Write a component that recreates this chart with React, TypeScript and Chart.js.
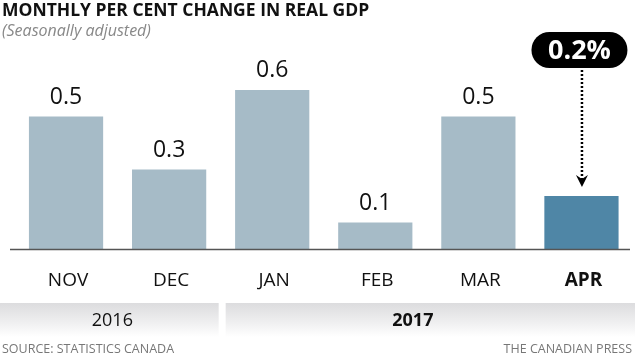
import React, { useEffect, useRef } from "react";
import { Chart, registerables } from "chart.js";

Chart.register(...registerables);

const months = ["NOV", "DEC", "JAN", "FEB", "MAR", "APR"];
const values = [0.5, 0.3, 0.6, 0.1, 0.5, 0.2];
const valueLabels = ["0.5", "0.3", "0.6", "0.1", "0.5", "0.2%"];
const years = ["2016", "2017"];
const yearSpans = [[0, 1], [2, 5]];
const title = "MONTHLY PER CENT CHANGE IN REAL GDP";
const subtitle = "(Seasonally adjusted)";
const source = "SOURCE: STATISTICS CANADA";
const credit = "THE CANADIAN PRESS";

const LIGHT = "rgb(166,187,199)";
const DARK = "rgb(79,134,166)";
const FONT = "'Open Sans', 'Noto Sans', sans-serif";

const overlay = {
  id: "overlay",
  afterDatasetsDraw(chart: any) {
    const ctx = chart.ctx as CanvasRenderingContext2D;
    const meta = chart.getDatasetMeta(0);
    const area = chart.chartArea;
    const W = chart.width;
    ctx.save();

    // baseline
    ctx.strokeStyle = "#555";
    ctx.lineWidth = 1.5;
    ctx.beginPath();
    ctx.moveTo(10, area.bottom + 0.5);
    ctx.lineTo(630, area.bottom + 0.5);
    ctx.stroke();

    // title
    ctx.textAlign = "left";
    ctx.textBaseline = "alphabetic";
    ctx.fillStyle = "#111";
    ctx.font = `bold 17.5px ${FONT}`;
    ctx.fillText(title, 2, 16);
    ctx.fillStyle = "#888";
    ctx.font = `italic 16px ${FONT}`;
    ctx.fillText(subtitle, 2, 36);

    // value labels & month labels
    meta.data.forEach((bar: any, i: number) => {
      ctx.textAlign = "center";
      if (i < months.length - 1) {
        ctx.fillStyle = "#111";
        ctx.font = `23px ${FONT}`;
        ctx.textBaseline = "alphabetic";
        ctx.fillText(valueLabels[i], bar.x, bar.y - 13);
      }
      ctx.fillStyle = "#111";
      ctx.font = (i === months.length - 1 ? "bold " : "") + `19px ${FONT}`;
      ctx.textBaseline = "middle";
      ctx.fillText(months[i], bar.x + 2, area.bottom + 32);
    });

    // year bands
    const bandTop = 303;
    const bandBottom = 337;
    yearSpans.forEach((span, k) => {
      const first = meta.data[span[0]];
      const last = meta.data[span[1]];
      const half = (meta.data[1].x - meta.data[0].x) / 2;
      const x0 = k === 0 ? 0 : first.x - half + 5;
      const x1 = k === yearSpans.length - 1 ? W : last.x + half - 2;
      const g = ctx.createLinearGradient(0, bandTop, 0, bandBottom);
      g.addColorStop(0, "rgb(220,220,222)");
      g.addColorStop(0.6, "rgb(240,240,241)");
      g.addColorStop(1, "rgba(255,255,255,1)");
      ctx.fillStyle = g;
      ctx.fillRect(x0, bandTop, x1 - x0, bandBottom - bandTop);
      ctx.fillStyle = "#111";
      ctx.font = (k === 1 ? "bold " : "") + `18px ${FONT}`;
      ctx.textAlign = "center";
      ctx.textBaseline = "middle";
      const cx = k === 0 ? (x0 + x1) / 2 + 3 : (first.x + last.x) / 2 - 14;
      ctx.fillText(years[k], cx, 321);
    });

    // footer
    ctx.fillStyle = "#777";
    ctx.font = `12.5px ${FONT}`;
    ctx.textBaseline = "alphabetic";
    ctx.textAlign = "left";
    ctx.fillText(source, 2, 353);
    ctx.textAlign = "right";
    ctx.fillText(credit, 632, 353);

    // callout for last bar
    const lb = meta.data[meta.data.length - 1];
    const px = lb.x - 2;
    const pw = 96;
    const ph = 36;
    const py = 32;
    const r = ph / 2;
    ctx.fillStyle = "#000";
    ctx.beginPath();
    ctx.moveTo(px - pw / 2 + r, py);
    ctx.lineTo(px + pw / 2 - r, py);
    ctx.arc(px + pw / 2 - r, py + r, r, -Math.PI / 2, Math.PI / 2);
    ctx.lineTo(px - pw / 2 + r, py + ph);
    ctx.arc(px - pw / 2 + r, py + r, r, Math.PI / 2, (3 * Math.PI) / 2);
    ctx.closePath();
    ctx.fill();
    ctx.fillStyle = "#fff";
    ctx.font = `bold 27px ${FONT}`;
    ctx.textAlign = "center";
    ctx.textBaseline = "middle";
    ctx.fillText(valueLabels[valueLabels.length - 1], px, py + ph / 2 + 1);

    // dotted arrow
    const ax = lb.x + 0.5;
    const tip = lb.y - 9;
    ctx.strokeStyle = "#000";
    ctx.lineWidth = 2.5;
    ctx.setLineDash([2, 2]);
    ctx.beginPath();
    ctx.moveTo(ax, py + ph + 2);
    ctx.lineTo(ax, tip - 6);
    ctx.stroke();
    ctx.setLineDash([]);
    ctx.fillStyle = "#000";
    ctx.beginPath();
    ctx.moveTo(ax, tip);
    ctx.lineTo(ax - 6, tip - 12);
    ctx.lineTo(ax, tip - 8);
    ctx.lineTo(ax + 6, tip - 12);
    ctx.closePath();
    ctx.fill();

    ctx.restore();
  },
};

export default function App() {
  const ref = useRef<HTMLCanvasElement | null>(null);
  useEffect(() => {
    if (!ref.current) return;
    const chart = new Chart(ref.current, {
      type: "bar",
      data: {
        labels: months,
        datasets: [
          {
            data: values,
            backgroundColor: values.map((_, i) => (i === values.length - 1 ? DARK : LIGHT)),
            borderWidth: 0,
            barPercentage: 0.72,
            categoryPercentage: 1,
          },
        ],
      },
      options: {
        responsive: false,
        animation: false,
        layout: { padding: { left: 14.5, right: 2, top: 10.5, bottom: 108 } },
        plugins: { legend: { display: false }, tooltip: { enabled: false }, title: { display: false } },
        scales: {
          x: { display: false, offset: true },
          y: { display: false, min: 0, max: 0.9 },
        },
      },
      plugins: [overlay],
    });
    return () => chart.destroy();
  }, []);
  return (
    <div style={{ position: "fixed", left: 0, top: 0, width: 635, height: 357, background: "#fff" }}>
      <canvas ref={ref} width={635} height={357} />
    </div>
  );
}
